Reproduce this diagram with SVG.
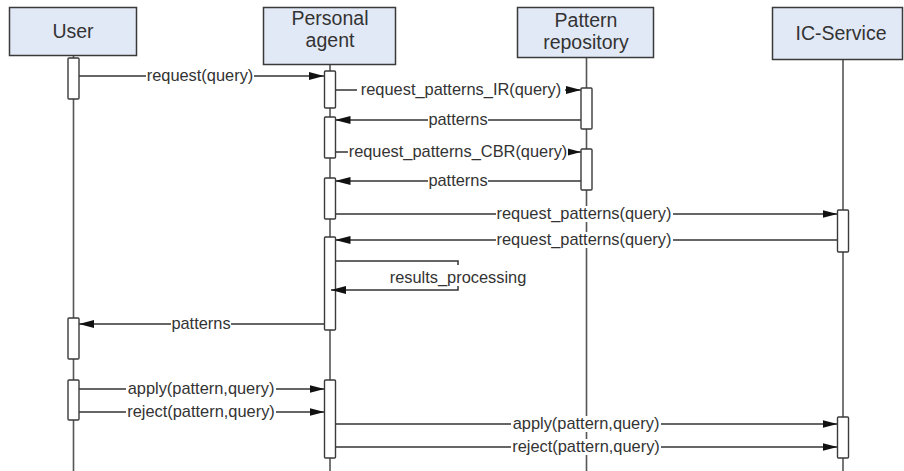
<svg xmlns="http://www.w3.org/2000/svg" width="904" height="471" viewBox="0 0 904 471">
<defs>
<style>
.hdr{fill:#e2e9f6;stroke:#3a3a3a;stroke-width:1.5}
.ht{font-family:"Liberation Sans",Arial,sans-serif;font-size:19.5px;fill:#333;text-anchor:middle}
.life{stroke:#555;stroke-width:1.6;fill:none}
.bar{fill:#fff;stroke:#3a3a3a;stroke-width:1.4}
.msg{stroke:#333;stroke-width:1.5;fill:none}
.lbg{fill:#fff}
.lt{font-family:"Liberation Sans",Arial,sans-serif;font-size:16.4px;fill:#333;text-anchor:middle}
</style>
<marker id="ah" markerUnits="userSpaceOnUse" markerWidth="15" markerHeight="8" refX="15" refY="4" orient="auto">
<path d="M0,0 L15,4 L0,8 z" fill="#111"/>
</marker>
</defs>
<rect width="904" height="471" fill="#fff"/>

<g id="lifelines">
<line class="life" x1="73.5" y1="56" x2="73.5" y2="471"/>
<line class="life" x1="330" y1="65" x2="330" y2="471"/>
<line class="life" x1="586.5" y1="58" x2="586.5" y2="471"/>
<line class="life" x1="843" y1="60" x2="843" y2="471"/>
</g>

<g id="user">
<rect class="hdr" x="9.5" y="7.5" width="127" height="48"/>
<text class="ht" x="73" y="38">User</text>
</g>
<g id="personal-agent">
<rect class="hdr" x="263.5" y="7.5" width="132" height="57"/>
<text class="ht" x="330" y="25">Personal</text>
<text class="ht" x="330" y="47">agent</text>
</g>
<g id="pattern-repository">
<rect class="hdr" x="517.5" y="7.5" width="136" height="50"/>
<text class="ht" x="586" y="27">Pattern</text>
<text class="ht" x="586" y="49">repository</text>
</g>
<g id="ic-service">
<rect class="hdr" x="772.5" y="7.5" width="130" height="52"/>
<text class="ht" x="841" y="40">IC-Service</text>
</g>

<g id="connectors">
<line class="msg" x1="79" y1="76" x2="324" y2="76" marker-end="url(#ah)"/>
<line class="msg" x1="335.5" y1="90" x2="581" y2="90" marker-end="url(#ah)"/>
<line class="msg" x1="581" y1="120" x2="335.5" y2="120" marker-end="url(#ah)"/>
<line class="msg" x1="335.5" y1="152" x2="581" y2="152" marker-end="url(#ah)"/>
<line class="msg" x1="581" y1="181" x2="335.5" y2="181" marker-end="url(#ah)"/>
<line class="msg" x1="335.5" y1="214" x2="837.5" y2="214" marker-end="url(#ah)"/>
<line class="msg" x1="837.5" y1="240" x2="335.5" y2="240" marker-end="url(#ah)"/>
<line class="msg" x1="324.5" y1="324" x2="79" y2="324" marker-end="url(#ah)"/>
<line class="msg" x1="79" y1="389" x2="324.5" y2="389" marker-end="url(#ah)"/>
<line class="msg" x1="79" y1="412" x2="324.5" y2="412" marker-end="url(#ah)"/>
<line class="msg" x1="335.5" y1="424" x2="837.5" y2="424" marker-end="url(#ah)"/>
<line class="msg" x1="335.5" y1="447" x2="837.5" y2="447" marker-end="url(#ah)"/>

<rect class="lbg" x="146" y="68" width="108" height="16"/>
<text class="lt" x="200" y="81">request(query)</text>
<rect class="lbg" x="357" y="82" width="208" height="16"/>
<text class="lt" x="461" y="95">request_patterns_IR(query)</text>
<rect class="lbg" x="428" y="112" width="60" height="16"/>
<text class="lt" x="458" y="125">patterns</text>
<rect class="lbg" x="348" y="144" width="220" height="16"/>
<text class="lt" x="458" y="157">request_patterns_CBR(query)</text>
<rect class="lbg" x="428" y="173" width="60" height="16"/>
<text class="lt" x="458" y="186">patterns</text>
<rect class="lbg" x="496" y="206" width="177" height="16"/>
<text class="lt" x="584" y="219">request_patterns(query)</text>
<rect class="lbg" x="496" y="232" width="177" height="16"/>
<text class="lt" x="584" y="245">request_patterns(query)</text>
<rect class="lbg" x="171" y="316" width="60" height="16"/>
<text class="lt" x="201" y="329">patterns</text>
<rect class="lbg" x="126" y="381" width="150" height="16"/>
<text class="lt" x="201" y="394">apply(pattern,query)</text>
<rect class="lbg" x="126" y="404" width="150" height="16"/>
<text class="lt" x="201" y="417">reject(pattern,query)</text>
<rect class="lbg" x="511" y="416" width="150" height="16"/>
<text class="lt" x="586" y="429">apply(pattern,query)</text>
<rect class="lbg" x="511" y="439" width="150" height="16"/>
<text class="lt" x="586" y="452">reject(pattern,query)</text>
</g>

<g id="activations">
<rect class="bar" x="68" y="58" width="11" height="41" rx="1"/>
<rect class="bar" x="68" y="318" width="11" height="41" rx="1"/>
<rect class="bar" x="68" y="380" width="11" height="40" rx="1"/>
<rect class="bar" x="324.5" y="71" width="11" height="37" rx="1"/>
<rect class="bar" x="324.5" y="117" width="11" height="41" rx="1"/>
<rect class="bar" x="324.5" y="178" width="11" height="41" rx="1"/>
<rect class="bar" x="324.5" y="237" width="11" height="93" rx="1"/>
<rect class="bar" x="324.5" y="380" width="11" height="78" rx="1"/>
<rect class="bar" x="581" y="88" width="11" height="41" rx="1"/>
<rect class="bar" x="581" y="149" width="11" height="41" rx="1"/>
<rect class="bar" x="837.5" y="210" width="11" height="42" rx="1"/>
<rect class="bar" x="837.5" y="417" width="11" height="41" rx="1"/>
</g>

<g id="self-message">
<path class="msg" d="M335.5,261 H458 V290 H331" marker-end="url(#ah)"/>
<rect class="lbg" x="388" y="265" width="140" height="21"/>
<text class="lt" x="458" y="283">results_processing</text>
</g>
</svg>
